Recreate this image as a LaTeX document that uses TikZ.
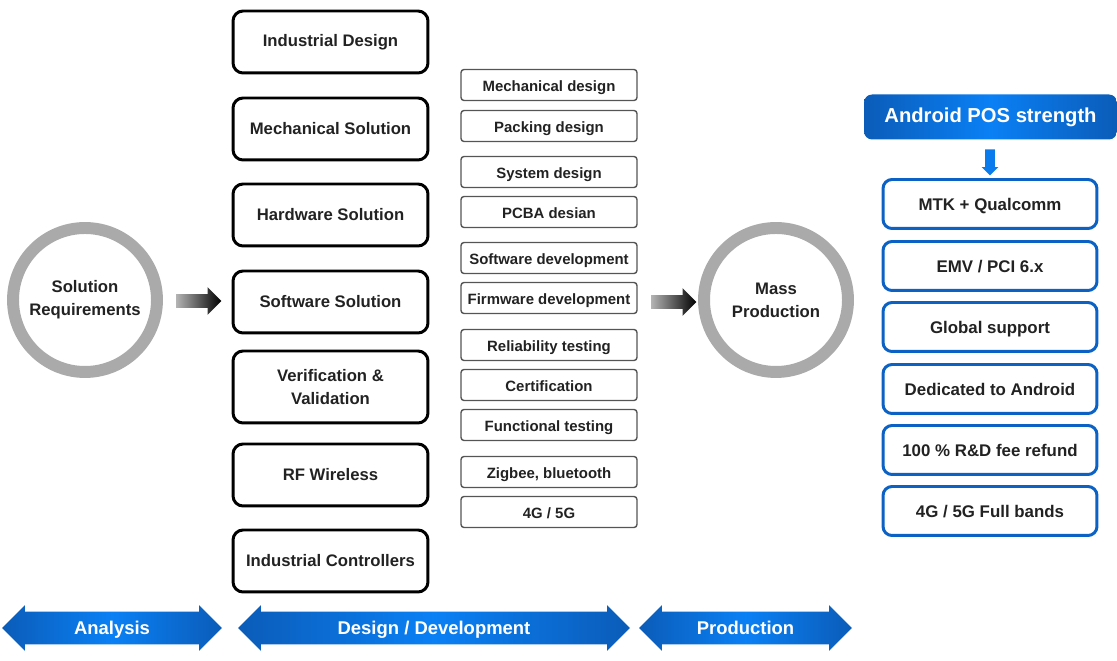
\documentclass[tikz,border=0pt]{standalone}
\usepackage{fontspec}
\setmainfont{Liberation Sans}
\usetikzlibrary{shapes.arrows}
\definecolor{ink}{HTML}{222222}
\definecolor{ring}{HTML}{AAAAAA}
\definecolor{boxgray}{HTML}{555555}
\definecolor{bluedark}{HTML}{0B5CB8}
\definecolor{bluelight}{HTML}{0A80F5}
\definecolor{blueline}{HTML}{0B62C4}
\tikzset{
  stage/.style={circle, draw=ring, line width=6.8pt, fill=white, minimum size=2.88cm, inner sep=0pt, align=center, text=ink, font=\fontsize{9.5}{13}\selectfont\bfseries},
  solution/.style={rectangle, rounded corners=0.2cm, draw=black, line width=1.7pt, minimum width=3.9cm, align=center, text=ink, font=\fontsize{9.5}{13}\selectfont\bfseries},
  task/.style={rectangle, rounded corners=0.06cm, draw=boxgray, line width=0.8pt, minimum width=3.52cm, minimum height=0.62cm, inner sep=0pt, text height=0.95em, text depth=0.2em, text=ink, font=\fontsize{8.5}{10}\selectfont\bfseries},
  strength/.style={rectangle, rounded corners=0.18cm, draw=blueline, line width=1.7pt, fill=white, minimum width=4.28cm, minimum height=0.98cm, inner sep=0pt, text height=0.95em, text depth=0.2em, text=ink, font=\fontsize{9.6}{11}\selectfont\bfseries},
  flow/.style={single arrow, single arrow head extend=0.14cm, minimum height=0.9cm, inner sep=0.13cm, left color=gray!60, right color=black},
  phase/.style={double arrow, double arrow head extend=0.13cm, inner sep=0pt, text height=0.455cm, text depth=0.185cm, minimum width=0.9cm, left color=bluedark, right color=bluedark, middle color=bluelight, text=white, font=\fontsize{10.5}{12}\selectfont\bfseries}
}
\begin{document}
\begin{tikzpicture}[x=0.02cm, y=-0.02cm]
  \useasboundingbox (0, 0) rectangle (1117, 661);
  % Stages
  \node [stage] (req) at (85, 300) {Solution\\Requirements};
  \node [stage] (mass) at (776, 300) {Mass\\Production};
  % Solutions
  \foreach \t/\y/\h [count=\i] in {Industrial Design/42/1.24, Mechanical Solution/129/1.24, Hardware Solution/215/1.24, Software Solution/302/1.24, {Verification \&\\Validation}/387/1.44, RF Wireless/475/1.24, Industrial Controllers/561/1.24}
    \node [solution, minimum height=\h cm] (sol-\i) at (330.5, \y) {\t};
  % Tasks
  \foreach \t/\y [count=\i] in {Mechanical design/85, Packing design/126, System design/172, PCBA desian/212, Software development/258, Firmware development/298, Reliability testing/345, Certification/385, Functional testing/425, {Zigbee, bluetooth}/472, {4G / 5G}/512}
    \node [task] (task-\i) at (549, \y) {\t};
  % Flow arrows
  \node [flow] (arr-1) at (195.5, 301) {};
  \node [flow] (arr-2) at (670.5, 302) {};
  % Strengths
  \node [rectangle, rounded corners=0.16cm, left color=bluedark, right color=bluedark, middle color=bluelight, minimum width=5.06cm, minimum height=0.9cm, text=white, font=\fontsize{11.5}{13}\selectfont\bfseries] (pos) at (990.5, 117) {Android POS strength};
  \node [single arrow, shape border rotate=270, single arrow head extend=0.07cm, inner sep=0.09cm, minimum height=0.52cm, fill=bluelight!85!bluedark] (down) at (990, 160) {};
  \foreach \t/\y [count=\i] in {MTK + Qualcomm/204, {EMV / PCI 6.x}/266, Global support/327, Dedicated to Android/389, 100 \% R\&D fee refund/450, {4G / 5G Full bands}/511}
    \node [strength] (str-\i) at (990, \y) {\t};
  % Phases
  \node [phase, minimum height=4.4cm] (ph-1) at (112, 628) {Analysis};
  \node [phase, minimum height=7.84cm] (ph-2) at (434, 628) {Design / Development};
  \node [phase, minimum height=4.26cm] (ph-3) at (745.5, 628) {Production};
\end{tikzpicture}
\end{document}
